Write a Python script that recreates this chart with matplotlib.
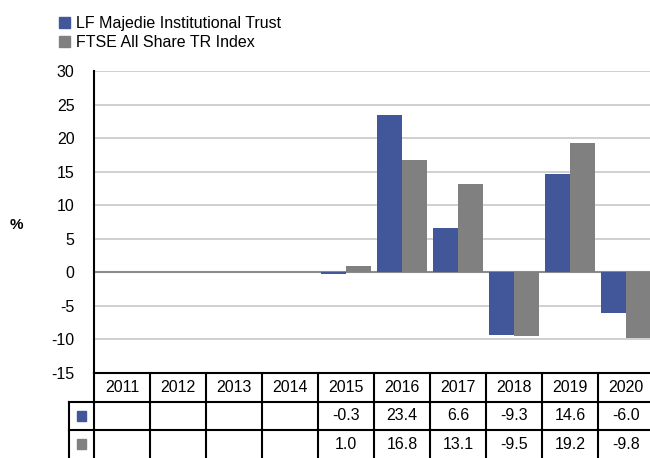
import numpy as np
import matplotlib.pyplot as plt
from matplotlib.patches import Rectangle
from matplotlib.transforms import blended_transform_factory

plt.rcParams['font.family'] = ['Liberation Sans', 'DejaVu Sans']
plt.rcParams['axes.unicode_minus'] = False

years = ['2011', '2012', '2013', '2014', '2015', '2016', '2017', '2018', '2019', '2020']
fund = [None, None, None, None, -0.3, 23.4, 6.6, -9.3, 14.6, -6.0]
index = [None, None, None, None, 1.0, 16.8, 13.1, -9.5, 19.2, -9.8]
fund_name = 'LF Majedie Institutional Trust'
index_name = 'FTSE All Share TR Index'

blue = '#41579a'
grey = '#808080'

W, H = 650, 458
fig = plt.figure(figsize=(W / 100, H / 100), dpi=100)
ax = fig.add_axes([94 / W, (H - 373) / H, 560 / W, 302 / H])

x = np.arange(len(years))
fv = np.array([np.nan if v is None else v for v in fund])
iv = np.array([np.nan if v is None else v for v in index])
bw = 0.44
ax.bar(x - bw / 2, np.nan_to_num(fv), bw, color=blue, zorder=3)
ax.bar(x + bw / 2, np.nan_to_num(iv), bw, color=grey, zorder=3)

ax.set_xlim(-0.5, len(years) - 0.5)
ax.set_ylim(-15, 30)
ax.set_yticks(np.arange(-15, 31, 5))
ax.set_xticks([])
ax.yaxis.grid(True, color='#c8c8c8', linewidth=1.2, zorder=0)
ax.axhline(0, color='#8c8c8c', linewidth=1.5, zorder=2)
for s in ['top', 'right', 'bottom']:
    ax.spines[s].set_visible(False)
ax.spines['left'].set_linewidth(1.5)
ax.tick_params(axis='y', length=0, pad=14, labelsize=11.5)
fig.text(16 / W, 1 - 225 / H, '%', fontsize=11, fontweight='bold', ha='center', va='center')

# data table under the axis
tr = blended_transform_factory(ax.transData, ax.transAxes)
rh = 28.5 / 302
leg_left = -0.5 - 25 / 56
lw = 1.5
kw = dict(transform=tr, clip_on=False, color='black', linewidth=lw)
ax.plot([-0.5, len(years) - 0.5], [0, 0], **kw)
ax.plot([leg_left, len(years) - 0.5], [-rh, -rh], **kw)
ax.plot([leg_left, len(years) - 0.5], [-2 * rh, -2 * rh], **kw)
ax.plot([leg_left, leg_left], [-rh, -3.2 * rh], **kw)
for b in np.arange(-0.5, len(years), 1.0):
    ax.plot([b, b], [0, -3.2 * rh], **kw)
for i, yr in enumerate(years):
    ax.text(i, -0.5 * rh, yr, transform=tr, ha='center', va='center', fontsize=11.5)
for r, (vals, col) in enumerate([(fund, blue), (index, grey)]):
    yc = -(1.5 + r) * rh
    ax.add_patch(Rectangle(((leg_left - 0.5) / 2 - 0.08, yc - 0.016), 0.16, 0.032,
                           transform=tr, clip_on=False, color=col))
    for i, v in enumerate(vals):
        if v is not None:
            ax.text(i, yc, f'{v:.1f}', transform=tr, ha='center', va='center', fontsize=11.5)

handles = [Rectangle((0, 0), 1, 1, color=blue), Rectangle((0, 0), 1, 1, color=grey)]
fig.legend(handles, [fund_name, index_name], loc='upper left', bbox_to_anchor=(48 / W, 1 - 5 / H),
           frameon=False, fontsize=11.5, handlelength=0.7, handleheight=0.7,
           handletextpad=0.35, labelspacing=0.25, borderpad=0.2)

fig.savefig('out.png', dpi=100)
